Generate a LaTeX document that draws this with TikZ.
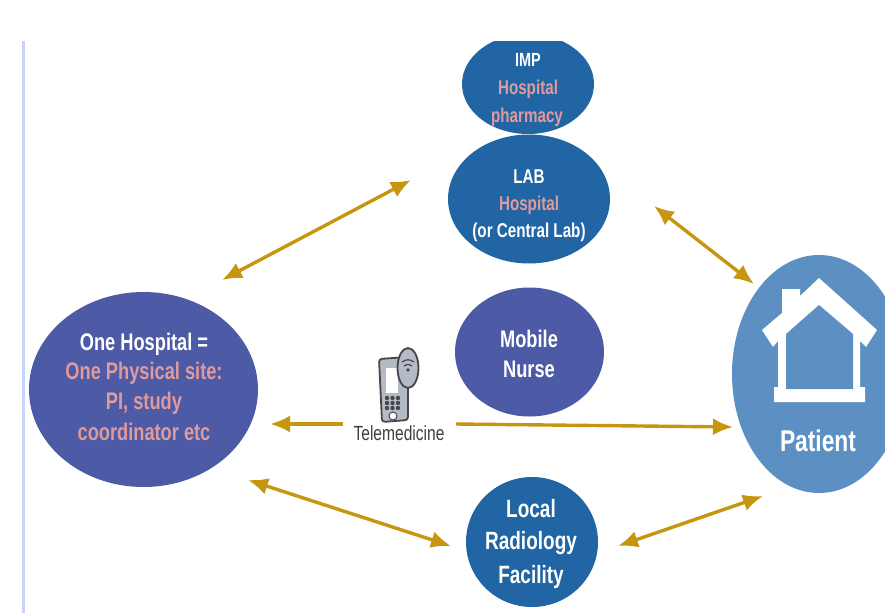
\documentclass[tikz,border=0pt]{standalone}
\usepackage{fontspec}
\setmainfont{Liberation Sans}[FakeStretch=0.76]
\usetikzlibrary{arrows.meta,shapes.geometric}
\definecolor{labblue}{HTML}{2165A4}
\definecolor{purp}{HTML}{4D5AA5}
\definecolor{patblue}{HTML}{5C90C2}
\definecolor{gold}{HTML}{C6960F}
\definecolor{pinktxt}{HTML}{DE9A9C}
\definecolor{edge}{HTML}{C3D4F8}
\definecolor{phonefill}{HTML}{B4BAC6}
\tikzset{
  blob/.style={ellipse,draw=none,inner sep=0pt},
  lbl/.style={font=\bfseries\fontsize{#1}{#1}\selectfont,text=white,align=center,inner sep=0pt},
  link/.style={draw=gold,line width=3.4pt,-{Latex[length=20pt,width=17pt]}},
  dlink/.style={draw=gold,line width=3.4pt,{Latex[length=20pt,width=17pt]}-{Latex[length=20pt,width=17pt]}},
  phonepart/.style={draw=black!72,line width=1.8pt,fill=phonefill},
}
\begin{document}
\begin{tikzpicture}[x=1pt,y=-1pt]
\useasboundingbox (0,0) rectangle (885,613);
\begin{scope}
\clip (0,41) rectangle (885,613);
\fill[edge] (22,41) rectangle (25,613);
\node[blob,fill=labblue,minimum width=132pt,minimum height=100pt] (imp) at (528,84) {};
\node[blob,fill=labblue,minimum width=162pt,minimum height=129pt] (lab) at (529,199) {};
\node[blob,fill=purp,minimum width=149pt,minimum height=129pt] (nurse) at (529.5,352) {};
\node[blob,fill=purp,minimum width=229pt,minimum height=195pt] (hosp) at (143.5,389.5) {};
\node[blob,fill=patblue,minimum width=174pt,minimum height=238pt] (pat) at (819,374) {};
\node[blob,fill=labblue,minimum width=132pt,minimum height=130pt] (rad) at (532,542) {};
\end{scope}
% texts
\node[lbl=19] (t1) at (528,60) {IMP};
\node[lbl=20,text=pinktxt] (t2) at (528,89) {Hospital};
\node[lbl=20,text=pinktxt] (t3) at (527,117) {pharmacy};
\node[lbl=20] (t4) at (529,177) {LAB};
\node[lbl=20,text=pinktxt] (t5) at (529,205) {Hospital};
\node[lbl=20] (t6) at (529,232) {(or Central Lab)};
\node[lbl=24] (t7) at (529,339) {Mobile};
\node[lbl=24] (t8) at (529,369) {Nurse};
\node[lbl=24] (t9) at (144,344) {One Hospital =};
\node[lbl=24,text=pinktxt] (t10) at (144,373) {One Physical site:};
\node[lbl=24,text=pinktxt] (t11) at (144,403) {PI, study};
\node[lbl=24,text=pinktxt] (t12) at (144,432) {coordinator etc};
\node[lbl=30] (t13) at (818,441) {Patient};
\node[lbl=25] (t14) at (531,509) {Local};
\node[lbl=25] (t15) at (531,543) {Radiology};
\node[lbl=25] (t16) at (531,577) {Facility};
\node[font=\fontsize{20.5}{20.5}\selectfont,text=black!75,inner sep=0pt] (tm) at (399,433) {Telemedicine};
% house
\fill[white] (819,278) -- (877,330) -- (866,347) -- (860,341) -- (860,387) -- (865,387) -- (865,402) -- (774,402) -- (774,387) -- (778,387) -- (778,341) -- (773,347) -- (762,330) -- (782,313) -- (782,289) -- (800,289) -- (800,296) -- cycle;
\fill[patblue] (819,305) -- (853,334) -- (853,389) -- (786,389) -- (786,334) -- cycle;
% phone
\draw[phonepart,rounded corners=3pt] (379,359) -- (408,357) -- (408,420) -- (382,422) -- cycle;
\fill[white] (386,368) rectangle (398,393);
\foreach \px in {387,392.5,398}\foreach \py in {398,403,408}
  \fill[black!72] (\px,\py) circle (2.2pt);
\fill[white,draw=black!72,line width=1pt] (393,416) circle (4pt);
\draw[phonepart] (408,368) ellipse (10.5pt and 20pt);
\draw[black!72,line width=1.2pt] (402,362) .. controls (406,359) and (410,359) .. (414,362);
\draw[black!72,line width=1.2pt] (404,366) .. controls (407,364) and (409,364) .. (412,366);
\fill[black!72] (408,370) circle (1.8pt);
% connectors
\coordinate (a1) at (222,280); \coordinate (a2) at (411,180);
\coordinate (b1) at (654,206); \coordinate (b2) at (754,284);
\coordinate (c1) at (343,424); \coordinate (c2) at (270,424);
\coordinate (d1) at (456,424); \coordinate (d2) at (733,427);
\coordinate (e1) at (248,480); \coordinate (e2) at (451,546);
\coordinate (f1) at (618,546); \coordinate (f2) at (763,496);
\draw[dlink] (a1) -- (a2);
\draw[dlink] (b1) -- (b2);
\draw[link] (c1) -- (c2);
\draw[link] (d1) -- (d2);
\draw[dlink] (e1) -- (e2);
\draw[dlink] (f1) -- (f2);
\end{tikzpicture}
\end{document}
